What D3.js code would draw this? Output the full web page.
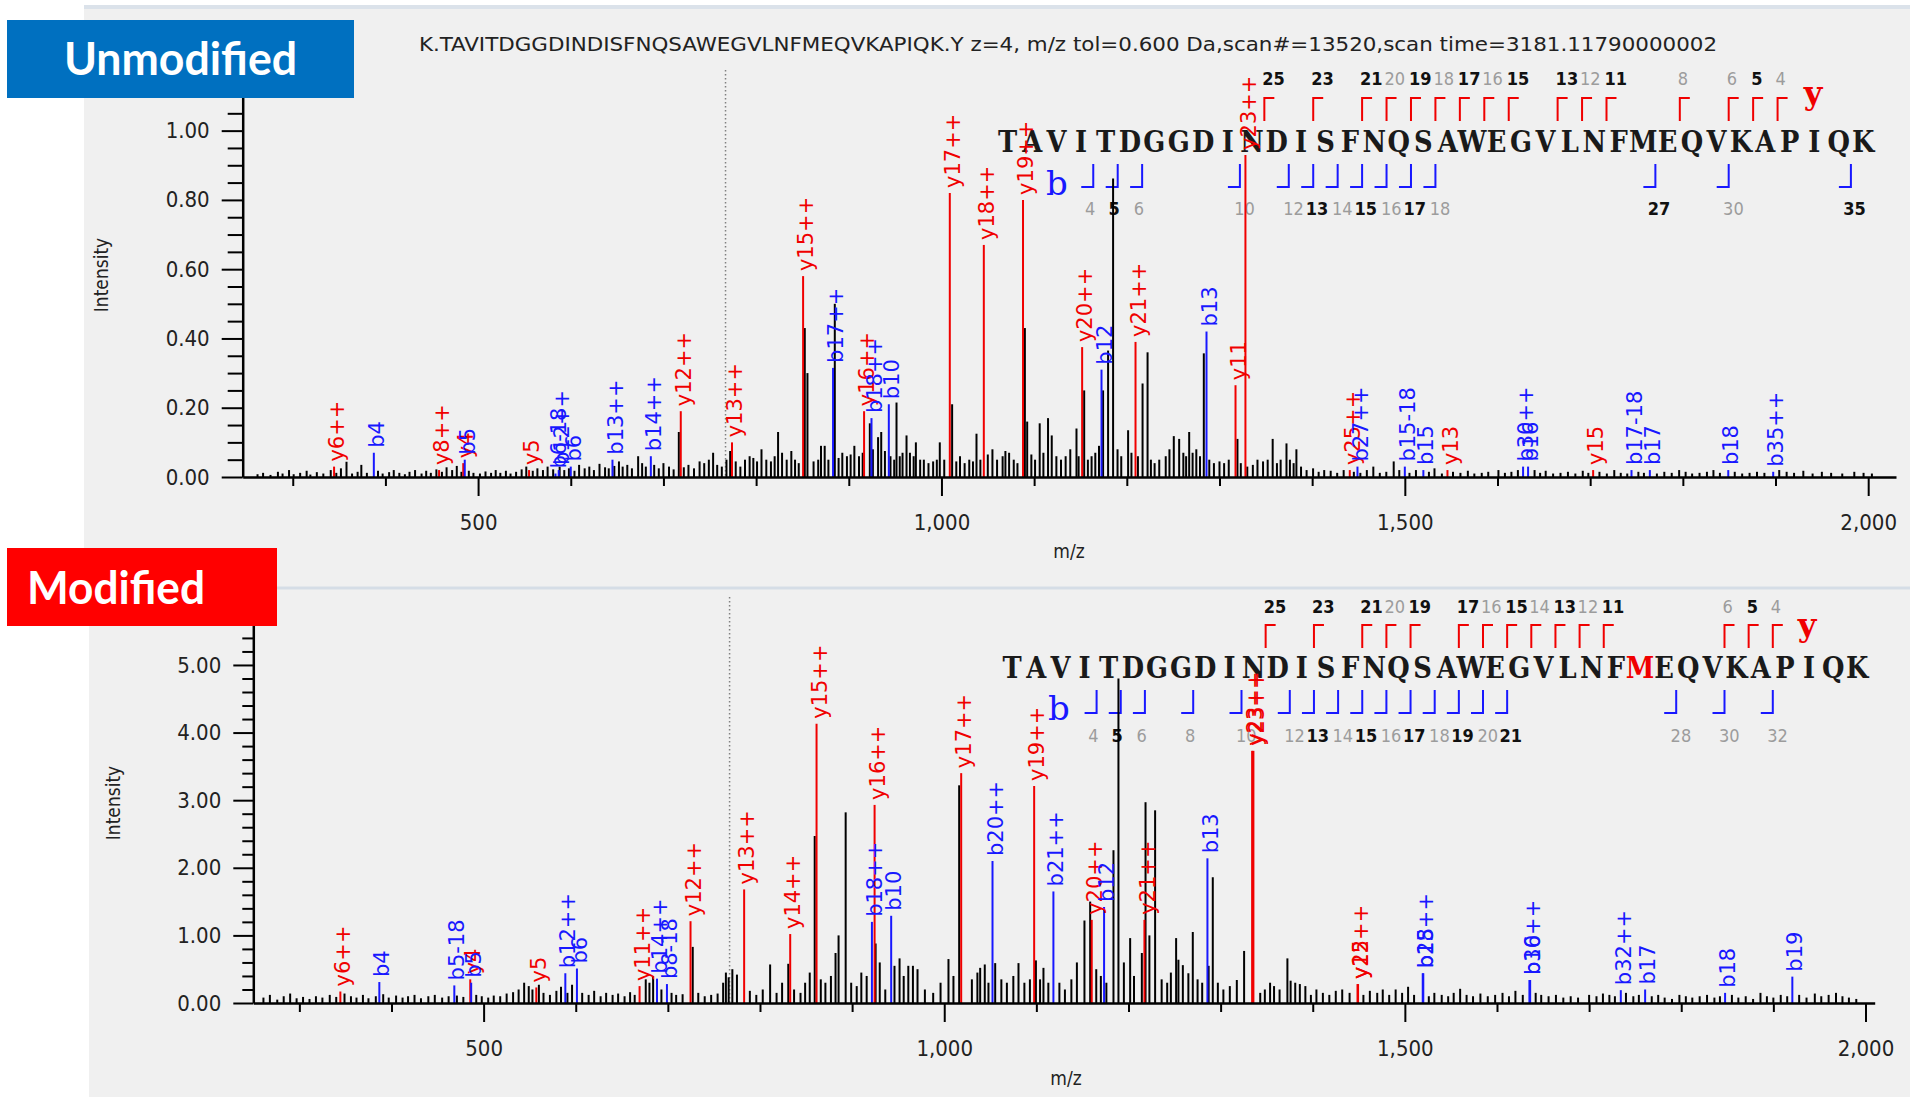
<!DOCTYPE html>
<html><head><meta charset="utf-8">
<script src="https://cdn.jsdelivr.net/npm/d3@7"></script>
<style>
html,body{margin:0;padding:0;background:#fff;}
svg{display:block;}
</style></head><body>
<svg id="chart" width="1910" height="1097"></svg>
<script>
// ---------------- DATA ----------------
const sequence = "TAVITDGGDINDISFNQSAWEGVLNFMEQVKAPIQK";
const titleText = "K.TAVITDGGDINDISFNQSAWEGVLNFMEQVKAPIQK.Y z=4, m/z tol=0.600 Da,scan#=13520,scan time=3181.11790000002";
const panelNames = ["Unmodified", "Modified"];
const modifiedResidue = 27;
const precursorMz = 767;
const xMajorTicks = [500, 1000, 1500, 2000];
const topYTicks = [0, 0.2, 0.4, 0.6, 0.8, 1.0];
const bottomYTicks = [0, 1, 2, 3, 4, 5];

// y / b ion coverage marks: [ion number, observed strongly (1) or weakly (0)]
const topYMarks = [[25,1],[23,1],[21,1],[20,0],[19,1],[18,0],[17,1],[16,0],[15,1],[13,1],[12,0],[11,1],[8,0],[6,0],[5,1],[4,0]];
const topBMarks = [[4,0],[5,1],[6,0],[10,0],[12,0],[13,1],[14,0],[15,1],[16,0],[17,1],[18,0],[27,1],[30,0],[35,1]];
const botYMarks = [[25,1],[23,1],[21,1],[20,0],[19,1],[17,1],[16,0],[15,1],[14,0],[13,1],[12,0],[11,1],[6,0],[5,1],[4,0]];
const botBMarks = [[4,0],[5,1],[6,0],[8,0],[10,0],[12,0],[13,1],[14,0],[15,1],[16,0],[17,1],[18,0],[19,1],[20,0],[21,1],[28,0],[30,0],[32,0]];

// annotated ions: [type, label, m/z, intensity]
const topIons = [
 ["y","y6++",344.6,0.03],["b","b4",387.5,0.07],["y","y8++",457.9,0.02],["y","y4",484,0.04],["b","b5",485.6,0.05],
 ["y","y5",555,0.02],["b","b6-18",583.5,0.01],["b","b12++",587,0.02],["b","b6",600,0.03],["b","b13++",645,0.05],
 ["b","b14++",686.4,0.06],["y","y12++",718.7,0.19],["y","y13++",774,0.10],["y","y15++",850.7,0.58],["b","b17++",883,0.315],
 ["y","y16++",916.5,0.19],["b","b18++",924.5,0.17],["b","b10",943.2,0.21],["y","y17++",1009,0.82],["y","y18++",1045.7,0.67],
 ["y","y19++",1088,0.80],["y","y20++",1151.8,0.375],["b","b12",1172.7,0.31],["y","y21++",1209.4,0.39],["b","b13",1286,0.42],
 ["y","y11",1317.3,0.265],["y","y23++",1328,0.93],["y","y25++",1440.6,0.02],["b","b27++",1448.9,0.03],["b","b15-18",1500,0.03],
 ["b","b15",1520,0.02],["y","y13",1546,0.02],["b","b30++",1627.6,0.03],["b","b16",1633,0.03],["y","y15",1703.2,0.02],
 ["b","b17-18",1744.6,0.02],["b","b17",1764.4,0.02],["b","b18",1849,0.02],["b","b35++",1897.5,0.015]
];
const botIons = [
 ["y","y6++",344.5,0.17],["b","b4",386.8,0.31],["b","b5-18",468.2,0.26],["y","y4",485.5,0.35],["b","b5",486.5,0.30],
 ["y","y5",557.2,0.23],["b","b12++",588.7,0.44],["b","b6",601.3,0.51],["y","y11++",669.3,0.25],["b","b14++",688.2,0.36],
 ["b","b8-18",699,0.28],["y","y12++",724.6,1.21],["y","y13++",782.8,1.68],["y","y14++",832.8,1.02],["y","y15++",861.4,4.13],
 ["b","b18++",921.5,1.2],["y","y16++",924.4,2.93],["b","b10",942.4,1.29],["y","y17++",1018.4,3.40],["b","b20++",1052.4,2.10],
 ["y","y19++",1097.6,3.21],["b","b21++",1118.5,1.65],["y","y20++",1160.1,1.23],["b","b12",1173.5,1.42],["y","y21++",1217.3,1.23],
 ["b","b13",1285.7,2.14],["y","y23++",1334.2,3.73],["y","y23++",1335.6,3.73],["y","y25++",1448.6,0.28],["y","y12",1449.2,0.28],
 ["b","b28++",1519.4,0.44],["b","b15",1520,0.44],["b","b30++",1635.2,0.34],["b","b16",1636,0.34],["b","b32++",1734.4,0.19],
 ["b","b17",1760.8,0.2],["b","b18",1847.6,0.15],["b","b19",1920.6,0.39]
];

// unannotated peaks: [m/z, intensity]
const topPeaks = [
 [262,.008],[268,.012],[276,.006],[284,.015],[289,.01],[296,.02],[301,.008],[308,.012],[315,.018],[319,.007],[326,.014],[333,.01],
 [341,.02],[347,.012],[352,.025],[358,.044],[364,.01],[370,.015],[374,.035],[380,.012],[392,.018],[397,.01],[404,.014],[409,.02],
 [415,.012],[421,.008],[426,.015],[432,.02],[439,.01],[444,.018],[449,.012],[455,.022],[461,.015],[466,.028],[472,.02],[477,.032],
 [482,.015],[490,.018],[495,.012],[502,.01],[508,.016],[514,.012],[519,.02],[524,.012],[530,.018],[535,.01],[541,.015],[547,.022],
 [552,.03],[559,.018],[564,.025],[570,.02],[575,.03],[581,.022],[588,.03],[593,.02],[598,.025],[604,.018],[609,.035],[615,.025],
 [620,.03],[625,.02],[631,.038],[637,.028],[641,.025],[647,.032],[652,.045],[656,.03],[661,.035],[666,.025],[672.7,.06],[677,.04],
 [681,.03],[690,.035],[695,.025],[700,.04],[706,.03],[711,.022],[716.6,.13],[722,.028],[727,.035],[733,.025],[739,.045],[744,.04],
 [749,.05],[753.6,.07],[758,.035],[763,.03],[768,.05],[772,.075],[778,.045],[783,.03],[788,.05],[793,.06],[797,.055],[801,.045],
 [805.8,.08],[811,.05],[816,.045],[820,.06],[823.7,.13],[828,.07],[833,.05],[838,.075],[842,.05],[846,.04],[852.5,.43],[855.4,.30],
 [862,.045],[867,.05],[870,.09],[874,.09],[878,.05],[884.9,.50],[889,.055],[893,.07],[898,.06],[902,.065],[906,.09],[911,.06],
 [915,.07],[922.7,.155],[926,.08],[931.6,.115],[935,.13],[939,.075],[945,.06],[949,.05],[951.5,.215],[955,.06],[958,.07],[962.3,.12],
 [966,.07],[970,.06],[972.4,.10],[977,.05],[981,.05],[986,.04],[991,.045],[995,.05],[998.2,.10],[1003,.05],[1011.5,.21],[1016,.045],
 [1020,.06],[1025,.04],[1030,.05],[1034,.045],[1037.8,.125],[1042,.05],[1050,.065],[1055,.08],[1060,.05],[1066,.06],[1069,.075],
 [1073,.07],[1078,.05],[1082,.04],[1090,.43],[1092.5,.16],[1097,.065],[1101,.05],[1106,.155],[1110,.07],[1115,.17],[1119,.12],
 [1124,.06],[1129,.05],[1134,.06],[1139,.08],[1145.7,.14],[1148,.06],[1154,.25],[1158,.05],[1162,.06],[1166,.07],[1170,.09],
 [1174.4,.25],[1179.8,.365],[1185.2,.862],[1190,.08],[1194,.06],[1201.4,.135],[1205,.07],[1212,.06],[1217,.27],[1222.4,.36],
 [1226,.05],[1230,.04],[1235,.05],[1242,.06],[1246,.08],[1250.7,.118],[1256.5,.11],[1261,.07],[1264,.06],[1267.3,.13],[1271,.07],
 [1275,.08],[1279,.06],[1283.1,.357],[1289,.05],[1294,.04],[1300,.045],[1305,.04],[1310,.05],[1319.4,.11],[1323,.04],[1330,.03],
 [1336,.035],[1341,.05],[1347,.045],[1352,.05],[1357.4,.11],[1362,.04],[1366,.05],[1372.3,.097],[1376,.05],[1380,.04],[1383,.08],
 [1388,.03],[1394,.02],[1401,.025],[1407,.015],[1413,.02],[1420,.018],[1427,.012],[1434,.02],[1445,.015],[1452,.012],[1459,.02],
 [1466,.03],[1473,.012],[1480,.015],[1488,.045],[1494,.02],[1505,.012],[1512,.02],[1526,.015],[1532,.025],[1540,.01],[1552,.015],
 [1560,.012],[1568,.018],[1575,.01],[1583,.012],[1590,.015],[1601,.02],[1608,.012],[1615,.015],[1622,.02],[1640,.02],[1646,.012],
 [1652,.018],[1660,.01],[1668,.012],[1676,.015],[1684,.01],[1692,.018],[1698,.012],[1710,.015],[1718,.01],[1726,.02],[1733,.012],
 [1740,.01],[1752,.015],[1758,.012],[1772,.01],[1780,.015],[1788,.012],[1796,.02],[1803,.015],[1810,.01],[1818,.012],[1826,.015],
 [1833,.02],[1840,.012],[1856,.015],[1864,.01],[1872,.012],[1880,.015],[1888,.012],[1904,.02],[1912,.015],[1920,.012],[1930,.018],
 [1940,.01],[1950,.015],[1960,.012],[1972,.01],[1985,.015],[1995,.012],[2004,.01]
];
const botPeaks = [
 [261,.08],[268,.12],[276,.05],[283,.1],[290,.14],[297,.07],[304,.09],[311,.06],[318,.1],[325,.08],[333,.12],[340,.09],[349,.14],
 [356,.1],[362,.08],[369,.12],[375,.07],[383,.1],[391,.13],[397,.08],[405,.11],[412,.08],[418,.1],[425,.12],[432,.07],[440,.1],
 [447,.12],[455,.08],[462,.1],[471,.11],[478,.09],[492,.12],[498,.1],[505,.08],[511,.11],[518,.1],[525,.14],[532,.16],[538,.2],
 [544,.3],[549,.25],[553,.2],[560,.27],[565,.15],[572,.12],[579,.18],[584,.24],[591,.15],[596,.27],[607,.15],[614,.12],[620,.18],
 [627,.1],[633,.15],[640,.12],[646,.14],[653,.1],[659,.16],[664,.12],[676,.35],[680,.3],[684,.4],[693,.2],[704,.15],[709,.12],
 [716,.13],[727,.83],[733,.15],[740,.1],[747,.12],[754,.14],[760,.3],[763,.45],[766,.38],[770,.5],[775,.42],[789,.18],[796,.12],
 [803,.2],[811,.57],[818,.15],[824,.3],[830.7,.58],[837,.2],[844,.15],[849,.3],[854,.45],[859.4,2.47],[866,.35],[871,.3],[877,.4],
 [882,.74],[885.3,1.0],[893,2.82],[899,.3],[905,.25],[910,.45],[915.8,.4],[925.5,.88],[930,.6],[936,.2],[946,.55],[951.5,.66],
 [956,.4],[961,.55],[966,.55],[971,.5],[979,.2],[988,.15],[996,.3],[1004.6,.65],[1010,.4],[1016.2,3.22],[1030,.35],[1036,.45],
 [1039,.52],[1044,.57],[1048,.3],[1055.3,.59],[1062,.35],[1068,.3],[1075,.4],[1080.6,.59],[1087,.3],[1093,.35],[1099.5,.63],
 [1104,.35],[1107.7,.52],[1113,.3],[1125,.3],[1131,.2],[1138,.35],[1144,.6],[1152.2,1.22],[1158.4,1.5],[1165,.5],[1170,.4],
 [1176,.3],[1183.7,2.26],[1189.1,4.80],[1195,.6],[1201.8,.96],[1206,.4],[1214.5,.74],[1218.5,2.97],[1222.7,1.0],[1228.9,2.85],
 [1236,.35],[1242,.3],[1246,.45],[1251.7,.96],[1254.2,.64],[1259,.56],[1265,.44],[1269.8,1.05],[1275,.35],[1280,.3],[1287,.55],
 [1291.5,1.86],[1297,.3],[1303,.2],[1310,.25],[1317.6,.34],[1325.5,.77],[1343,.15],[1348,.2],[1353.7,.3],[1358,.25],[1364,.2],
 [1372.5,.66],[1376,.33],[1381,.3],[1386,.28],[1392,.25],[1398,.12],[1404,.2],[1411,.15],[1418,.12],[1425,.18],[1432,.2],[1440,.15],
 [1455,.12],[1462,.18],[1470,.15],[1476,.2],[1483,.12],[1490,.2],[1497,.15],[1503.5,.24],[1510,.12],[1526,.1],[1532,.15],[1540,.12],
 [1547,.1],[1553,.15],[1560,.21],[1567,.12],[1574,.1],[1582,.14],[1590,.1],[1598,.12],[1606,.15],[1613,.1],[1620,.18],[1628,.12],
 [1642,.15],[1648,.12],[1656,.1],[1664,.12],[1672,.08],[1680,.1],[1688,.08],[1700,.12],[1708,.1],[1715,.14],[1722,.12],[1728,.1],
 [1740,.15],[1748,.1],[1754,.12],[1768,.1],[1775,.12],[1782,.08],[1790,.06],[1798,.12],[1805,.1],[1812,.08],[1820,.1],[1828,.12],
 [1836,.08],[1842,.1],[1855,.12],[1862,.08],[1870,.1],[1878,.06],[1886,.15],[1893,.1],[1900,.08],[1908,.12],[1915,.1],[1928,.12],
 [1936,.08],[1945,.14],[1952,.1],[1960,.12],[1968,.15],[1975,.1],[1982,.08],[1990,.06]
];

// ---------------- LAYOUT ----------------
const RED = "#f00000", BLUE = "#1818ff";
const svg = d3.select("#chart");
svg.append("rect").attr("width",1910).attr("height",1097).attr("fill","#fff");
svg.append("rect").attr("x",84).attr("y",5).attr("width",1826).attr("height",583).attr("fill","#f0f0f0");
svg.append("rect").attr("x",89).attr("y",588).attr("width",1821).attr("height",509).attr("fill","#f0f0f0");
svg.append("line").attr("x1",84).attr("x2",1910).attr("y1",7).attr("y2",7).attr("stroke","#dbe2ea").attr("stroke-width",4);
svg.append("line").attr("x1",89).attr("x2",1910).attr("y1",588).attr("y2",588).attr("stroke","#d5dde6").attr("stroke-width",3);

const topCfg = {
  xDomain:[246,2030], xRange:[242.7,1896], yDomain:[0,1.1], yBase:477, yTop:96,
  yTicks:topYTicks, yMinorStep:0.05, yMajorLen:21, yMinorLen:15,
  seqStart:995.5, seqStep:24.44, yNumBase:85, yBrTop:98, yBrBot:121, seqBase:152,
  bBrTop:164, bBrBot:187, bNumBase:215, yLetter:[1813,104], bLetter:[1057,195],
  dotTop:70, intensity:[101,275], mz:[1069,558]
};
const botCfg = {
  xDomain:[250,2010], xRange:[253.3,1874.7], yDomain:[0,5.6], yBase:1003, yTop:624.4,
  yTicks:bottomYTicks, yMinorStep:0.2, yMajorLen:20, yMinorLen:11,
  seqStart:1000, seqStep:24.15, yNumBase:613, yBrTop:625, yBrBot:648, seqBase:678,
  bBrTop:690, bBrBot:713, bNumBase:742, yLetter:[1807,636], bLetter:[1059,720],
  dotTop:597, intensity:[113,803], mz:[1066,1085]
};

const COND = '"DejaVu Sans Condensed","DejaVu Sans",sans-serif';

function drawPanel(P, peaks, ions, yMarks, bMarks, modIdx) {
  const g = svg.append("g");
  const x = d3.scaleLinear().domain(P.xDomain).range(P.xRange);
  const y = d3.scaleLinear().domain(P.yDomain).range([P.yBase, P.yTop]);
  const s = d3.scaleLinear().domain([0, sequence.length]).range([P.seqStart, P.seqStart + sequence.length*P.seqStep]);

  // precursor dotted line
  g.append("line").attr("x1",x(precursorMz)).attr("x2",x(precursorMz)).attr("y1",P.dotTop).attr("y2",P.yBase)
   .attr("stroke","#808080").attr("stroke-width",1.5).attr("stroke-dasharray","1.5,2.5");

  // sequence letters
  g.selectAll(null).data(sequence.split("")).enter().append("text")
   .attr("transform",(d,i)=>`translate(${s(i+0.5)},${P.seqBase}) scale(0.86,1)`)
   .attr("text-anchor","middle").attr("font-family","'DejaVu Serif',serif").attr("font-weight","bold").attr("font-size",30)
   .attr("fill",(d,i)=> (i+1===modIdx ? RED : "#1a1a1a")).text(d=>d);

  // y brackets
  g.selectAll(null).data(yMarks).enter().append("path")
   .attr("d",d=>{const bx=s(sequence.length-d[0]); return `M${bx},${P.yBrBot}V${P.yBrTop}H${bx+10}`;})
   .attr("fill","none").attr("stroke",RED).attr("stroke-width",2);
  g.selectAll(null).data(yMarks).enter().append("text")
   .attr("x",d=>s(sequence.length-d[0])-2).attr("y",P.yNumBase)
   .attr("font-family",COND).attr("font-size",18).attr("font-weight",d=>d[1]?"bold":"normal")
   .attr("fill",d=>d[1]?"#111":"#9c9c9c").text(d=>d[0]);
  // b brackets
  g.selectAll(null).data(bMarks).enter().append("path")
   .attr("d",d=>{const bx=s(d[0]); return `M${bx},${P.bBrTop}V${P.bBrBot}H${bx-12}`;})
   .attr("fill","none").attr("stroke",BLUE).attr("stroke-width",2);
  g.selectAll(null).data(bMarks).enter().append("text")
   .attr("x",d=>s(d[0])+(String(d[0]).length-1)*13+2).attr("y",P.bNumBase).attr("text-anchor","end")
   .attr("font-family",COND).attr("font-size",18).attr("font-weight",d=>d[1]?"bold":"normal")
   .attr("fill",d=>d[1]?"#111":"#9c9c9c").text(d=>d[0]);
  g.append("text").attr("x",P.yLetter[0]).attr("y",P.yLetter[1]).attr("text-anchor","middle")
   .attr("font-family","'DejaVu Serif',serif").attr("font-weight","bold").attr("font-size",32).attr("fill",RED).text("y");
  g.append("text").attr("x",P.bLetter[0]).attr("y",P.bLetter[1]).attr("text-anchor","middle")
   .attr("font-family","'DejaVu Serif',serif").attr("font-size",34).attr("fill",BLUE).text("b");

  // unannotated peaks
  g.selectAll(null).data(peaks).enter().append("line")
   .attr("x1",d=>x(d[0])).attr("x2",d=>x(d[0])).attr("y1",y(0)).attr("y2",d=>y(d[1]))
   .attr("stroke","#000").attr("stroke-width",2);
  // annotated peaks
  g.selectAll(null).data(ions).enter().append("line")
   .attr("x1",d=>x(d[2])).attr("x2",d=>x(d[2])).attr("y1",y(0)).attr("y2",d=>y(d[3]))
   .attr("stroke",d=>d[0]==="y"?RED:BLUE).attr("stroke-width",2);
  g.selectAll(null).data(ions).enter().append("text")
   .attr("transform",d=>`translate(${x(d[2])},${y(d[3])-5}) rotate(-90)`)
   .attr("dy","0.48em").attr("font-family","'DejaVu Sans',sans-serif").attr("font-size",21)
   .attr("fill",d=>d[0]==="y"?RED:BLUE).text(d=>d[1]);

  // axes
  const yMinor = d3.range(0, P.yDomain[1]+1e-9, P.yMinorStep).filter(v=>!P.yTicks.some(t=>Math.abs(t-v)<1e-6));
  const ay2 = g.append("g").attr("transform",`translate(${P.xRange[0]},0)`)
   .call(d3.axisLeft(y).tickValues(yMinor).tickSize(P.yMinorLen).tickFormat("").tickSizeOuter(0));
  ay2.select(".domain").remove();
  const ay = g.append("g").attr("transform",`translate(${P.xRange[0]},0)`)
   .call(d3.axisLeft(y).tickValues(P.yTicks).tickSize(P.yMajorLen).tickPadding(12).tickSizeOuter(0).tickFormat(d3.format(".2f")));
  const xMinor = d3.range(300, 2001, 100).filter(v=>v%500!==0);
  const ax2 = g.append("g").attr("transform",`translate(0,${P.yBase})`)
   .call(d3.axisBottom(x).tickValues(xMinor).tickSize(9).tickFormat("").tickSizeOuter(0));
  ax2.select(".domain").remove();
  const ax = g.append("g").attr("transform",`translate(0,${P.yBase})`)
   .call(d3.axisBottom(x).tickValues(xMajorTicks).tickSize(19).tickPadding(18).tickSizeOuter(0).tickFormat(d3.format(",")));
  [ay, ay2, ax, ax2].forEach(a=>{
    a.selectAll(".domain").attr("stroke","#000").attr("stroke-width",2.5);
    a.selectAll(".tick line").attr("stroke","#000").attr("stroke-width",2);
    a.selectAll(".tick text").attr("font-family",COND).attr("font-size",22).attr("fill","#222");
  });

  g.append("text").attr("transform",`translate(${P.intensity[0]},${P.intensity[1]}) rotate(-90)`)
   .attr("text-anchor","middle").attr("dy","0.35em").attr("font-family",COND).attr("font-size",19)
   .attr("fill","#222").text("Intensity");
  g.append("text").attr("x",P.mz[0]).attr("y",P.mz[1]).attr("text-anchor","middle")
   .attr("font-family",COND).attr("font-size",19).attr("fill","#222").text("m/z");
}

drawPanel(topCfg, topPeaks, topIons, topYMarks, topBMarks, 0);
drawPanel(botCfg, botPeaks, botIons, botYMarks, botBMarks, modifiedResidue);

// title
svg.append("text").attr("x",1068).attr("y",51).attr("text-anchor","middle")
 .attr("font-family",COND).attr("font-size",19).attr("fill","#222")
 .attr("textLength",1298).attr("lengthAdjust","spacingAndGlyphs").text(titleText);

// panel name boxes
const boxes = [
  {name:panelNames[0], x:7, y:20, w:347, h:78, fill:"#0070c0", tx:64, ty:75, tl:233},
  {name:panelNames[1], x:7, y:548, w:270, h:78, fill:"#ff0000", tx:27, ty:604, tl:178}
];
boxes.forEach(b=>{
  svg.append("rect").attr("x",b.x).attr("y",b.y).attr("width",b.w).attr("height",b.h).attr("fill",b.fill);
  svg.append("text").attr("x",b.tx).attr("y",b.ty).attr("font-family","Lato,'Open Sans',sans-serif")
   .attr("font-weight","bold").attr("font-size",45).attr("fill","#fff")
   .attr("textLength",b.tl).attr("lengthAdjust","spacingAndGlyphs").text(b.name);
});
</script>
</body></html>
